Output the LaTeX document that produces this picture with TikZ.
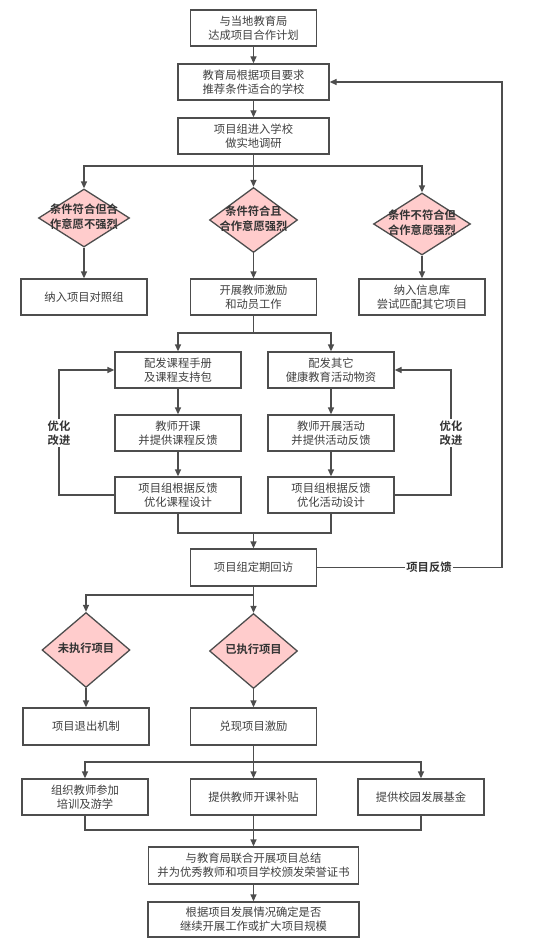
\documentclass[tikz,border=0pt]{standalone}
\usepackage{fontspec}
\setmainfont{Noto Sans CJK SC}[BoldFont={Noto Sans CJK SC Bold}]
\usetikzlibrary{arrows.meta,shapes.geometric}
\definecolor{linegray}{HTML}{4D4D4D}
\definecolor{textgray}{HTML}{404040}
\definecolor{pinkfill}{HTML}{FFCCCC}
\newcommand{\dlabel}[1]{\makebox[0pt]{\bfseries\begin{tabular}{@{}c@{}}#1\end{tabular}}}

\begin{document}
\begin{tikzpicture}[x=1pt, y=-1pt, line width=1.3pt, font=\fontsize{11.3}{14.3}\selectfont,
   box_style/.style={draw=linegray, fill=white, text=textgray, align=center, inner sep=0pt, minimum width=126, minimum height=36},
   cond_style/.style={diamond, draw=linegray, fill=pinkfill, text=black!80, inner sep=0pt},
   arrow_style/.style={draw=linegray, -{Triangle[length=7pt,width=6pt]}},
   line_style/.style={draw=linegray},
   note_style/.style={fill=white, text=black!80, font=\fontsize{11.3}{14.3}\selectfont\bfseries, align=center, inner sep=1pt}]
	  \useasboundingbox (0,0) rectangle (547,947);

	  \node [box_style] (plan) at (253.5,28) {与当地教育局\\达成项目合作计划};
	  \node [box_style, minimum width=151] (recommend) at (253.5,82) {教育局根据项目要求\\推荐条件适合的学校};
	  \node [box_style, minimum width=151] (survey) at (253.5,136) {项目组进入学校\\做实地调研};
	  \node [cond_style, minimum width=91, minimum height=58] (weak) at (84,218) {\dlabel{条件符合但合\\作意愿不强烈}};
	  \node [cond_style, minimum width=88, minimum height=65] (strong) at (253.5,220) {\dlabel{条件符合且\\合作意愿强烈}};
	  \node [cond_style, minimum width=97, minimum height=62] (unfit) at (422,224) {\dlabel{条件不符合但\\合作意愿强烈}};
	  \node [box_style] (control) at (84,297) {纳入项目对照组};
	  \node [box_style] (motivate) at (253.5,297) {开展教师激励\\和动员工作};
	  \node [box_style] (database) at (422,297) {纳入信息库\\尝试匹配其它项目};
	  \node [box_style] (manual) at (178,370) {配发课程手册\\及课程支持包};
	  \node [box_style] (teach) at (178,433) {教师开课\\并提供课程反馈};
	  \node [box_style] (course) at (178,495) {项目组根据反馈\\优化课程设计};
	  \node [box_style] (supply) at (331,370) {配发其它\\健康教育活动物资};
	  \node [box_style] (activity) at (331,433) {教师开展活动\\并提供活动反馈};
	  \node [box_style] (design) at (331,495) {项目组根据反馈\\优化活动设计};
	  \node [box_style, minimum height=37] (visit) at (253.5,567.5) {项目组定期回访};
	  \node [cond_style, minimum width=88, minimum height=75] (undone) at (86,650) {\dlabel{未执行项目}};
	  \node [cond_style, minimum width=88, minimum height=75] (done) at (253.5,651) {\dlabel{已执行项目}};
	  \node [box_style, minimum height=37] (quit) at (86,726.5) {项目退出机制};
	  \node [box_style, minimum height=37] (reward) at (253.5,726.5) {兑现项目激励};
	  \node [box_style] (training) at (85,797) {组织教师参加\\培训及游学};
	  \node [box_style] (subsidy) at (253.5,797) {提供教师开课补贴};
	  \node [box_style] (fund) at (421,797) {提供校园发展基金};
	  \node [box_style, minimum width=210, minimum height=37] (summary) at (253.5,865.5) {与教育局联合开展项目总结\\并为优秀教师和项目学校颁发荣誉证书};
	  \node [box_style, minimum width=211, minimum height=35] (scale) at (253.5,919.5) {根据项目发展情况确定是否\\继续开展工作或扩大项目规模};

	  \coordinate (j1) at (253.5,166);
	  \coordinate (j2) at (253.5,333);
	  \coordinate (j3) at (253.5,533);
	  \coordinate (j4) at (253.5,595);
	  \coordinate (j5) at (253.5,762);
	  \coordinate (j6) at (253.5,830);
	  \coordinate (loopL) at (59,433);
	  \coordinate (loopR) at (451,433);
	  \coordinate (fb) at (502,567.5);

	  \foreach \from/\to in {plan/recommend, recommend/survey, weak/control, strong/motivate, unfit/database, manual/teach, teach/course, supply/activity, activity/design, undone/quit, done/reward, summary/scale}
	    \draw [arrow_style] (\from.south) -- (\to.north);

	  \draw [line_style] (survey.south) -- (j1);
	  \foreach \to in {weak, unfit}
	    \draw [arrow_style] (j1) -| (\to.north);
	  \draw [arrow_style] (j1) -- (strong.north);
	  \draw [line_style] (motivate.south) -- (j2);
	  \draw [arrow_style] (j2) -| (manual.north);
	  \draw [arrow_style] (j2) -| (supply.north);
	  \draw [line_style] (course.south) |- (j3) -| (design.south);
	  \draw [arrow_style] (j3) -- (visit.north);
	  \draw [line_style] (visit.south) -- (j4);
	  \draw [arrow_style] (j4) -| (undone.north);
	  \draw [arrow_style] (j4) -- (done.north);
	  \draw [line_style] (reward.south) -- (j5);
	  \foreach \to in {training, fund}
	    \draw [arrow_style] (j5) -| (\to.north);
	  \draw [arrow_style] (j5) -- (subsidy.north);
	  \draw [line_style] (training.south) |- (j6) -| (fund.south);
	  \draw [line_style] (subsidy.south) -- (j6);
	  \draw [arrow_style] (j6) -- (summary.north);

	  % feedback loops
	  \draw [arrow_style] (course.west) -| (loopL) |- (manual.west);
	  \draw [arrow_style] (design.east) -| (loopR) |- (supply.east);
	  \draw [arrow_style] (visit.east) -- (fb) |- (recommend.east);
	  \node [note_style] (loopLtext) at (loopL) {优化\\改进};
	  \node [note_style] (loopRtext) at (loopR) {优化\\改进};
	  \node [note_style] (fbtext) at (429,567.5) {项目反馈};

	\end{tikzpicture}
\end{document}
